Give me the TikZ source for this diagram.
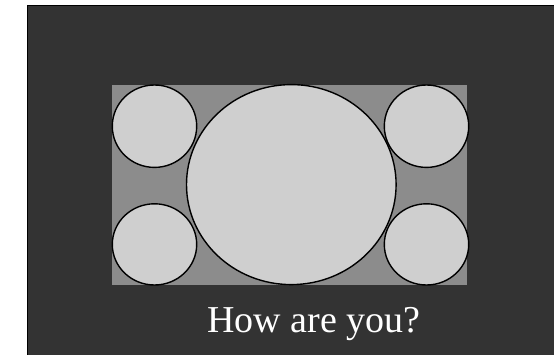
\documentclass[tikz,border=0pt]{standalone}
\usepackage{fontspec}
\setmainfont{Liberation Serif}
\definecolor{bgdark}{HTML}{333333}
\definecolor{midgray}{HTML}{8C8C8C}
\definecolor{lightgray}{HTML}{CFCFCF}
\tikzset{
  disc/.style={draw=black, line width=1.4pt, fill=lightgray},
}
\begin{document}
\begin{tikzpicture}[x=1pt,y=-1pt]
\useasboundingbox (0,0) rectangle (554,355);
\fill[white] (0,0) rectangle (554,355);
\draw[fill=bgdark, draw=black, line width=1pt] (27.5,6) rectangle (560,362);
\fill[midgray] (112,85) rectangle (467,285);
\path[disc] (154.5,126.2) ellipse [x radius=42.2, y radius=41.2];
\path[disc] (154.5,244.4) ellipse [x radius=42.2, y radius=40.6];
\path[disc] (426.5,126.2) ellipse [x radius=42.2, y radius=41.2];
\path[disc] (426.5,244.4) ellipse [x radius=42.2, y radius=40.6];
\path[disc] (291.3,184.6) ellipse [x radius=104.8, y radius=100];
\node (caption) [text=white, font=\fontsize{38}{44}\selectfont, anchor=base] at (313.7,332.3) {How are you?};
\end{tikzpicture}
\end{document}
